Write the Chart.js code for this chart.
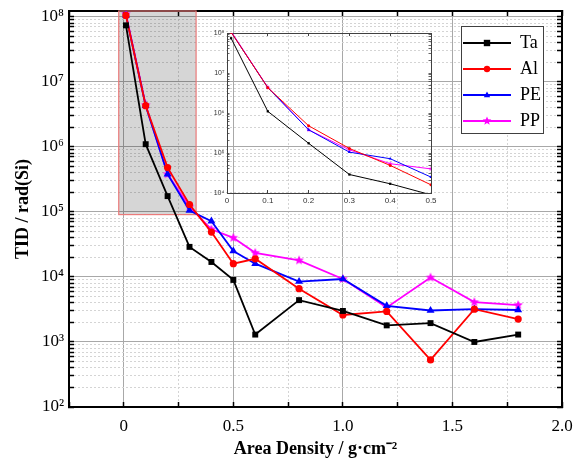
<!DOCTYPE html>
<html lang="en">
<head>
  <meta charset="UTF-8">
  <title>TID vs Area Density</title>
  <script src="https://cdn.jsdelivr.net/npm/chart.js"></script>
  <style>
    body { margin: 0; background: #fff; }
    #wrap { position: relative; width: 578px; height: 460px; }
    #mainChart { position: absolute; left: 0; top: 0; }
    #insetChart { position: absolute; left: 200px; top: 25px; }
  </style>
</head>
<body>
<div id="wrap">
  <canvas id="mainChart" width="578" height="460"></canvas>
  <canvas id="insetChart" width="240" height="185"></canvas>
</div>
<script>
  // area density, g/cm^2
  const density = [0.01, 0.1, 0.2, 0.3, 0.4, 0.5, 0.6, 0.8, 1.0, 1.2, 1.4, 1.6, 1.8];
  // total ionizing dose, rad(Si)
  const tidTa = [7.4e7, 1.1e6, 1.75e5, 2.9e4, 1.7e4, 9.0e3, 1.3e3, 4.4e3, 3.0e3, 1.8e3, 1.95e3, 1.0e3, 1.3e3];
  const tidAl = [1.05e8, 4.3e6, 4.8e5, 1.3e5, 4.9e4, 1.6e4, 1.9e4, 6.6e3, 2.6e3, 2.95e3, 5.3e2, 3.2e3, 2.25e3];
  const tidPE = [1.05e8, 4.3e6, 3.8e5, 1.05e5, 7.2e4, 2.5e4, 1.6e4, 8.5e3, 9.3e3, 3.6e3, 3.05e3, 3.2e3, 3.1e3];
  const tidPP = [1.1e8, 4.4e6, 3.8e5, 1.2e5, 5.4e4, 4.0e4, 2.35e4, 1.8e4, 9.3e3, 3.4e3, 9.8e3, 4.1e3, 3.7e3];
  const seriesNames = ['Ta', 'Al', 'PE', 'PP'];

  const xMajorTicks = [0, 0.5, 1.0, 1.5, 2.0];
  const xTickLabels = ['0', '0.5', '1.0', '1.5', '2.0'];
  const yDecades = [2, 3, 4, 5, 6, 7, 8];
  const insetXTicks = [0, 0.1, 0.2, 0.3, 0.4, 0.5];
  const insetXLabels = ['0', '0.1', '0.2', '0.3', '0.4', '0.5'];
  const insetDecades = [4, 5, 6, 7, 8];
  // shaded region that the inset enlarges: x from, x to, lower TID
  const zoomBox = [-0.023, 0.33, 9.1e4];

  const X_MIN = -0.25, X_MAX = 2.0, Y_MIN = 100, Y_MAX = 1.23e8;
  const SERIF = '"Liberation Serif", "Times New Roman", serif';
  const SANS = '"Liberation Sans", Arial, sans-serif';
  const colors = ['#000000', '#ff0000', '#0000ff', '#ff00ff'];
  const series = [tidTa, tidAl, tidPE, tidPP];

  Chart.defaults.font.family = SERIF;
  Chart.defaults.color = '#000';

  const SUP = '⁰¹²³⁴⁵⁶⁷⁸⁹';
  const sup = n => String(n).split('').map(d => SUP[+d]).join('');
  const isDecade = v => Math.abs(Math.log10(v) - Math.round(Math.log10(v))) < 1e-6;
  const isHalf = v => Math.abs(v * 2 - Math.round(v * 2)) < 1e-6;
  const decadeLabel = v => isDecade(v) ? '10' + sup(Math.round(Math.log10(v))) : '';

  function logTicks(decades, top) {
    const out = [];
    decades.forEach(d => {
      for (let m = 1; m <= 9; m++) {
        const v = m * Math.pow(10, d);
        if (v <= top * 1.0001) out.push(v);
      }
    });
    return out;
  }
  const xGridTicks = [];
  for (let i = -1; i <= 8; i++) xGridTicks.push(i * 0.25);

  // markers
  function drawMarker(g, kind, cx, cy, r, color) {
    g.fillStyle = color;
    g.beginPath();
    if (kind === 'rect') {
      g.rect(cx - r, cy - r, 2 * r, 2 * r);
    } else if (kind === 'circle') {
      g.arc(cx, cy, r, 0, Math.PI * 2);
    } else if (kind === 'triangle') {
      g.moveTo(cx, cy - r * 1.1);
      g.lineTo(cx + r, cy + r * 0.7);
      g.lineTo(cx - r, cy + r * 0.7);
      g.closePath();
    } else {
      for (let i = 0; i < 10; i++) {
        const rr = i % 2 ? r * 0.45 : r;
        const a = -Math.PI / 2 + i * Math.PI / 5;
        g.lineTo(cx + rr * Math.cos(a), cy + rr * Math.sin(a));
      }
      g.closePath();
    }
    g.fill();
  }
  function starImage(r, color) {
    const c = document.createElement('canvas');
    c.width = c.height = Math.ceil(2 * r + 2);
    drawMarker(c.getContext('2d'), 'star', c.width / 2, c.height / 2, r, color);
    return c;
  }
  function legendSample(kind, color) {
    const c = document.createElement('canvas');
    c.width = 48; c.height = 12;
    const g = c.getContext('2d');
    g.strokeStyle = color; g.lineWidth = 1.8;
    g.beginPath(); g.moveTo(0, 6); g.lineTo(48, 6); g.stroke();
    drawMarker(g, kind, 24, 6, kind === 'star' ? 4.5 : 3.2, color);
    return c;
  }
  const markerKinds = ['rect', 'circle', 'triangle', 'star'];
  const legendSamples = markerKinds.map((k, i) => legendSample(k, colors[i]));

  function makeDatasets(big) {
    const styles = ['rect', 'circle', 'triangle', starImage(big ? 5 : 2.4, colors[3])];
    const radii = big ? [4.2, 3.6, 4.6, 5] : [1.6, 1.5, 1.8, 2];
    return series.map((vals, i) => ({
      label: seriesNames[i],
      data: density.map((x, j) => ({ x: x, y: vals[j] })),
      borderColor: colors[i],
      backgroundColor: colors[i],
      borderWidth: big ? 1.8 : 1,
      pointStyle: styles[i],
      pointRadius: radii[i],
      pointBorderWidth: 0,
      tension: 0
    }));
  }

  // axis builder: ticks point inwards, frame drawn by the axis borders
  function axis(o) {
    return {
      type: o.type, position: o.position, min: o.min, max: o.max,
      afterBuildTicks: s => { s.ticks = o.ticks.map(v => ({ value: v })); },
      afterFit: s => {
        if (o.horizontal) s.height = o.size; else s.width = o.size;
        s.paddingLeft = s.paddingRight = s.paddingTop = s.paddingBottom = 0;
      },
      grid: {
        display: true,
        drawOnChartArea: !!o.grid,
        color: c => c.tick && o.major(c.tick.value) ? '#a8a8a8' : '#d4d4d4',
        lineWidth: 1,
        drawTicks: true,
        tickLength: -o.tickLen,
        tickColor: o.frameColor,
        tickWidth: o.tickWidth
      },
      border: {
        display: true, color: o.frameColor, width: o.frameWidth,
        dash: c => c.tick && !o.major(c.tick.value) ? [2, 2] : []
      },
      ticks: {
        display: !!o.label,
        autoSkip: false, maxRotation: 0, minRotation: 0,
        padding: o.pad || 0,
        color: o.labelColor || '#000',
        font: o.font,
        callback: o.label || (() => '')
      },
      title: o.title || { display: false }
    };
  }

  const legendBoxPlugin = {
    id: 'legendBox',
    afterLayout(chart) {
      const lg = chart.legend;
      const ca = chart.chartArea;
      lg.left = ca.right - 107;
      lg.top = ca.top + 15;
      lg.right = lg.left + lg.width;
      lg.bottom = lg.top + lg.height;
    },
    afterDatasetsDraw(chart) {
      const lg = chart.legend;
      const g = chart.ctx;
      g.save();
      g.fillStyle = '#fff';
      g.fillRect(lg.left + 6.5, lg.top + 0.5, 82, 107);
      g.strokeStyle = '#404040';
      g.lineWidth = 1;
      g.strokeRect(lg.left + 6.5, lg.top + 0.5, 82, 107);
      g.restore();
      lg.draw();
    }
  };

  const zoomBoxPlugin = {
    id: 'zoomBox',
    beforeDatasetsDraw(chart) {
      const { x, y } = chart.scales;
      const g = chart.ctx;
      const l = x.getPixelForValue(zoomBox[0]);
      const r = x.getPixelForValue(zoomBox[1]);
      const t = chart.chartArea.top;
      const b = y.getPixelForValue(zoomBox[2]);
      g.save();
      g.fillStyle = 'rgba(0,0,0,0.16)';
      g.fillRect(l, t, r - l, b - t);
      g.strokeStyle = '#ea7a7a';
      g.lineWidth = 1.2;
      g.strokeRect(l, t, r - l, b - t);
      g.restore();
    }
  };

  const mainYTicks = logTicks(yDecades, Y_MAX);
  const mainX = {
    type: 'linear', min: X_MIN, max: X_MAX, ticks: xGridTicks, major: isHalf,
    frameColor: '#000', frameWidth: 2, tickLen: 5, tickWidth: 1.5
  };
  const mainY = {
    type: 'logarithmic', min: Y_MIN, max: Y_MAX, ticks: mainYTicks, major: isDecade,
    frameColor: '#000', frameWidth: 2, tickLen: 5, tickWidth: 1.5
  };

  new Chart(document.getElementById('mainChart'), {
    type: 'line',
    data: { datasets: makeDatasets(true) },
    options: {
      responsive: false,
      animation: false,
      events: [],
      layout: { padding: 0 },
      scales: {
        x: axis(Object.assign({}, mainX, {
          position: 'bottom', horizontal: true, size: 53, grid: true, pad: 14,
          font: { family: SERIF, size: 17 },
          label: v => {
            const i = xMajorTicks.findIndex(m => Math.abs(m - v) < 1e-6);
            return i >= 0 ? xTickLabels[i] : '';
          },
          title: {
            display: true, text: 'Area Density / g·cm⁻²', color: '#000',
            font: { family: SERIF, size: 18, weight: 'bold', lineHeight: 1 },
            padding: { top: 0, bottom: 2 }
          }
        })),
        x2: axis(Object.assign({}, mainX, { position: 'top', horizontal: true, size: 11 })),
        y: axis(Object.assign({}, mainY, {
          position: 'left', size: 69, grid: true, pad: 10,
          font: { family: SERIF, size: 17 },
          label: decadeLabel,
          title: {
            display: true, text: 'TID / rad(Si)', color: '#000',
            font: { family: SERIF, size: 18, weight: 'bold', lineHeight: 1 },
            padding: { top: 14, bottom: 0 }
          }
        })),
        y2: axis(Object.assign({}, mainY, { position: 'right', size: 16 }))
      },
      plugins: {
        tooltip: { enabled: false },
        legend: {
          position: 'chartArea',
          align: 'start',
          labels: {
            usePointStyle: true,
            pointStyleWidth: 48,
            padding: 8,
            color: '#000',
            font: { family: SERIF, size: 18, lineHeight: 1 },
            generateLabels: chart => chart.data.datasets.map((ds, i) => ({
              text: ds.label,
              pointStyle: legendSamples[i],
              fillStyle: ds.borderColor,
              strokeStyle: ds.borderColor,
              fontColor: '#000',
              lineWidth: 0,
              hidden: false,
              datasetIndex: i
            }))
          }
        }
      }
    },
    plugins: [zoomBoxPlugin, legendBoxPlugin]
  });

  // inset: enlarged view of the first half g/cm^2
  const insetYTicks = logTicks(insetDecades, 1e8);
  const inX = {
    type: 'linear', min: 0, max: 0.5, ticks: insetXTicks, major: () => true,
    frameColor: '#404040', frameWidth: 1, tickLen: 3, tickWidth: 1
  };
  const inY = {
    type: 'logarithmic', min: 1e4, max: 1e8, ticks: insetYTicks, major: isDecade,
    frameColor: '#404040', frameWidth: 1, tickLen: 2.5, tickWidth: 0.8
  };

  new Chart(document.getElementById('insetChart'), {
    type: 'line',
    data: { datasets: makeDatasets(false) },
    options: {
      responsive: false,
      animation: false,
      events: [],
      layout: { padding: 0 },
      scales: {
        x: axis(Object.assign({}, inX, {
          position: 'bottom', horizontal: true, size: 17, pad: 6, labelColor: '#333',
          font: { family: SANS, size: 8 },
          label: v => {
            const i = insetXTicks.findIndex(m => Math.abs(m - v) < 1e-6);
            return i >= 0 ? insetXLabels[i] : '';
          }
        })),
        x2: axis(Object.assign({}, inX, { position: 'top', horizontal: true, size: 8 })),
        y: axis(Object.assign({}, inY, {
          position: 'left', size: 27, pad: 5, labelColor: '#333',
          font: { family: SANS, size: 7 },
          label: decadeLabel
        })),
        y2: axis(Object.assign({}, inY, { position: 'right', size: 9 }))
      },
      plugins: { legend: { display: false }, tooltip: { enabled: false } }
    }
  });
</script>
</body>
</html>
